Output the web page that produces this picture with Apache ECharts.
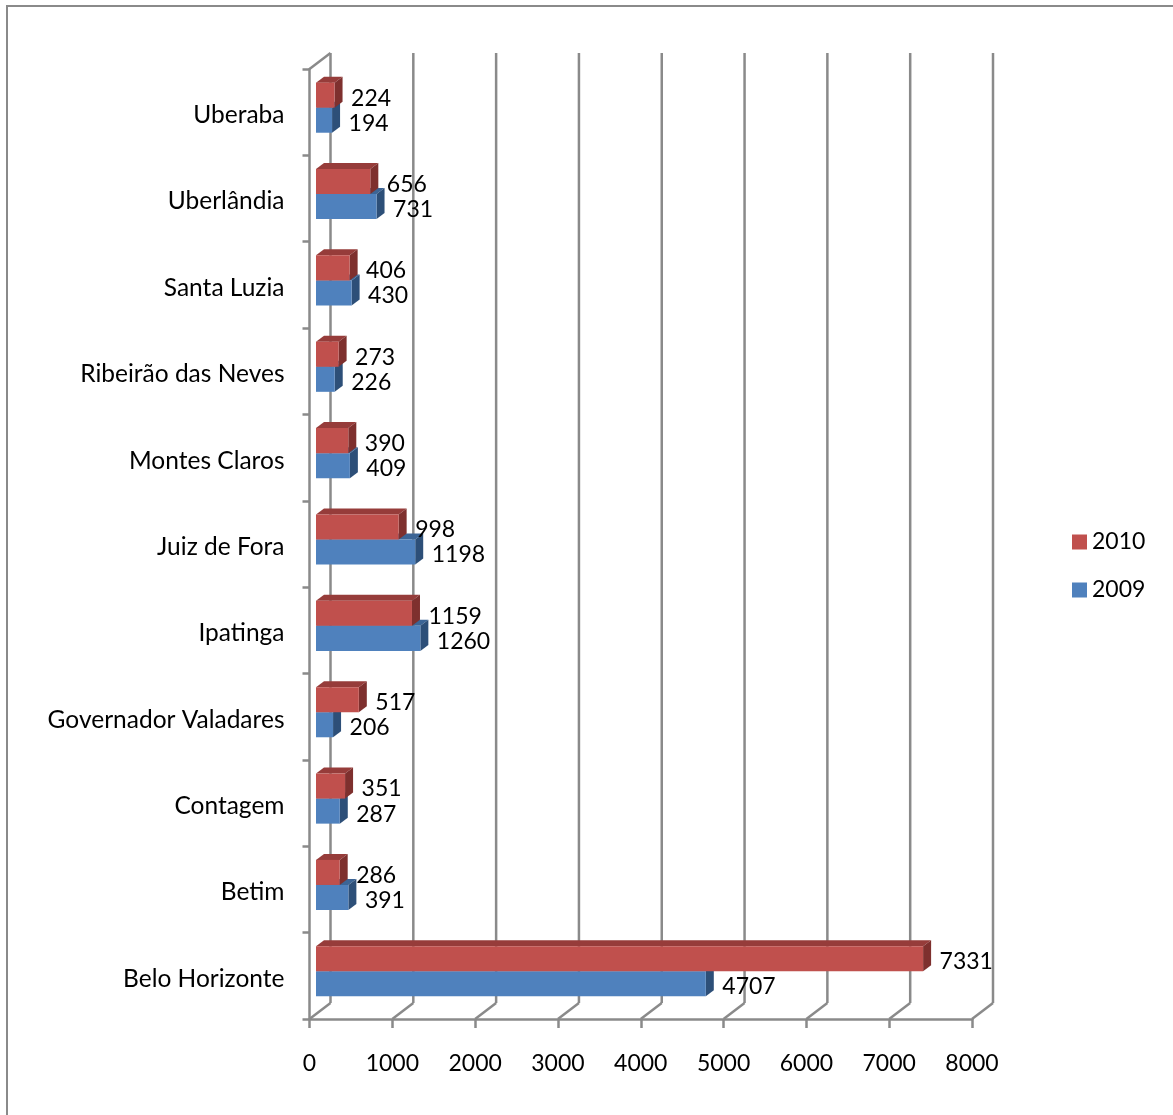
<!DOCTYPE html>
<html>
<head>
<meta charset="utf-8">
<script src="https://cdn.jsdelivr.net/npm/echarts@6/dist/echarts.min.js"></script>
<style>
  html, body { margin: 0; padding: 0; background: #fff; }
  #chart { width: 1173px; height: 1115px; }
</style>
</head>
<body>
<div id="chart"></div>
<script>
// Cities, bottom to top
const cities = ['Belo Horizonte', 'Betim', 'Contagem', 'Governador Valadares', 'Ipatinga',
  'Juiz de Fora', 'Montes Claros', 'Ribeirão das Neves', 'Santa Luzia', 'Uberlândia', 'Uberaba'];
const values2010 = [7331, 286, 351, 517, 1159, 998, 390, 273, 406, 656, 224];
const values2009 = [4707, 391, 287, 206, 1260, 1198, 409, 226, 430, 731, 194];
const xTicks = [0, 1000, 2000, 3000, 4000, 5000, 6000, 7000, 8000];
const seriesNames = ['2010', '2009'];

const FONT = 'Lato';
const FONT_SIZE = 23;
const CAT_FONT_SIZE = 24.5;
const GRID_COLOR = '#8a8a8a';
// back wall depth (px)
const WALL_DX = 21, WALL_DY = 16;
// bars sit half-way into the depth
const BAR_SHIFT_X = 6.5, BAR_SHIFT_Y = 4.5;
// prism depth of each bar
const BAR_DX = 8, BAR_DY = 6;

const RED = { front: '#C0504D', top: '#963C3A', side: '#7E302E' };
const BLUE = { front: '#4F81BD', top: '#3C6596', side: '#2D4F78' };

const chart = echarts.init(document.getElementById('chart'), null, { renderer: 'canvas' });

// back wall gridlines plus the floor diagonals
function renderWall(params, api) {
  const cs = params.coordSys;
  const v = api.value(0);
  const x = api.coord([v, 0])[0];
  const top = cs.y, bottom = cs.y + cs.height;
  const style = { stroke: GRID_COLOR, lineWidth: 2.5, fill: null };
  const children = [
    { type: 'line', shape: { x1: x + WALL_DX, y1: top - WALL_DY, x2: x + WALL_DX, y2: bottom - WALL_DY }, style },
    { type: 'line', shape: { x1: x + WALL_DX, y1: bottom - WALL_DY, x2: x, y2: bottom }, style }
  ];
  if (v === xTicks[0]) {
    children.push({ type: 'line', shape: { x1: x, y1: top, x2: x + WALL_DX, y2: top - WALL_DY }, style });
  }
  return { type: 'group', children };
}

// 3D-looking bar: front face, top face, right side face and value label
function makeBarRenderer(upper, colors) {
  return function (params, api) {
    const idx = api.value(0);
    const val = api.value(1);
    const p0 = api.coord([0, idx]);
    const p1 = api.coord([val, idx]);
    const band = api.size([0, 1])[1];
    const h = band * 0.29;
    const cy = p0[1] - BAR_SHIFT_Y;
    const x0 = p0[0] + BAR_SHIFT_X, x1 = p1[0] + BAR_SHIFT_X;
    const y0 = upper ? cy - h : cy;
    const y1 = upper ? cy : cy + h;
    return {
      type: 'group',
      children: [
        { type: 'polygon', shape: { points: [[x0, y0], [x1, y0], [x1 + BAR_DX, y0 - BAR_DY], [x0 + BAR_DX, y0 - BAR_DY]] },
          style: { fill: colors.top } },
        { type: 'polygon', shape: { points: [[x1, y0], [x1 + BAR_DX, y0 - BAR_DY], [x1 + BAR_DX, y1 - BAR_DY], [x1, y1]] },
          style: { fill: colors.side } },
        { type: 'rect', shape: { x: x0, y: y0, width: x1 - x0, height: y1 - y0 },
          style: { fill: colors.front } },
        { type: 'text', x: x1 + BAR_DX + 8.5, y: (y0 + y1) / 2 + 3,
          style: { text: String(val), fontFamily: FONT, fontSize: FONT_SIZE, fill: '#000',
                   align: 'left', verticalAlign: 'middle' } }
      ]
    };
  };
}

const data2010 = values2010.map((v, i) => [i, v]);
const data2009 = values2009.map((v, i) => [i, v]);

chart.setOption({
  animation: false,
  backgroundColor: '#fff',
  graphic: [{
    type: 'rect', silent: true,
    shape: { x: 7, y: 6, width: 1300, height: 1300 },
    style: { fill: null, stroke: GRID_COLOR, lineWidth: 2 }
  }],
  legend: {
    data: seriesNames,
    orient: 'vertical',
    left: 1072,
    top: 530.5,
    padding: 0,
    icon: 'rect',
    itemWidth: 15,
    itemHeight: 15,
    itemGap: 25,
    textStyle: { fontFamily: FONT, fontSize: FONT_SIZE, color: '#000' }
  },
  grid: { left: 309.5, right: 201, top: 69, bottom: 96, containLabel: false },
  xAxis: {
    type: 'value',
    min: xTicks[0],
    max: xTicks[xTicks.length - 1],
    interval: xTicks[1] - xTicks[0],
    axisLine: { show: true, lineStyle: { color: GRID_COLOR, width: 2.5 } },
    axisTick: { show: true, length: 9, lineStyle: { color: GRID_COLOR, width: 2.5 } },
    splitLine: { show: false },
    axisLabel: { fontFamily: FONT, fontSize: FONT_SIZE, color: '#000', margin: 33,
                 formatter: v => String(v) }
  },
  yAxis: {
    type: 'category',
    data: cities,
    axisLine: { show: true, lineStyle: { color: GRID_COLOR, width: 2.5 } },
    axisTick: { show: true, length: 7, lineStyle: { color: GRID_COLOR, width: 2.5 } },
    splitLine: { show: false },
    axisLabel: { fontFamily: FONT, fontSize: CAT_FONT_SIZE, color: '#000', margin: 25,
                 verticalAlign: 'top', lineHeight: 6 }
  },
  series: [
    { type: 'custom', name: 'wall', silent: true, renderItem: renderWall,
      data: xTicks.map(v => [v]), encode: { x: 0 }, z: 1 },
    { type: 'custom', name: seriesNames[1], renderItem: makeBarRenderer(false, BLUE),
      itemStyle: { color: BLUE.front }, data: data2009, encode: { x: 1, y: 0 }, z: 3 },
    { type: 'custom', name: seriesNames[0], renderItem: makeBarRenderer(true, RED),
      itemStyle: { color: RED.front }, data: data2010, encode: { x: 1, y: 0 }, z: 4 }
  ]
});
</script>
</body>
</html>
